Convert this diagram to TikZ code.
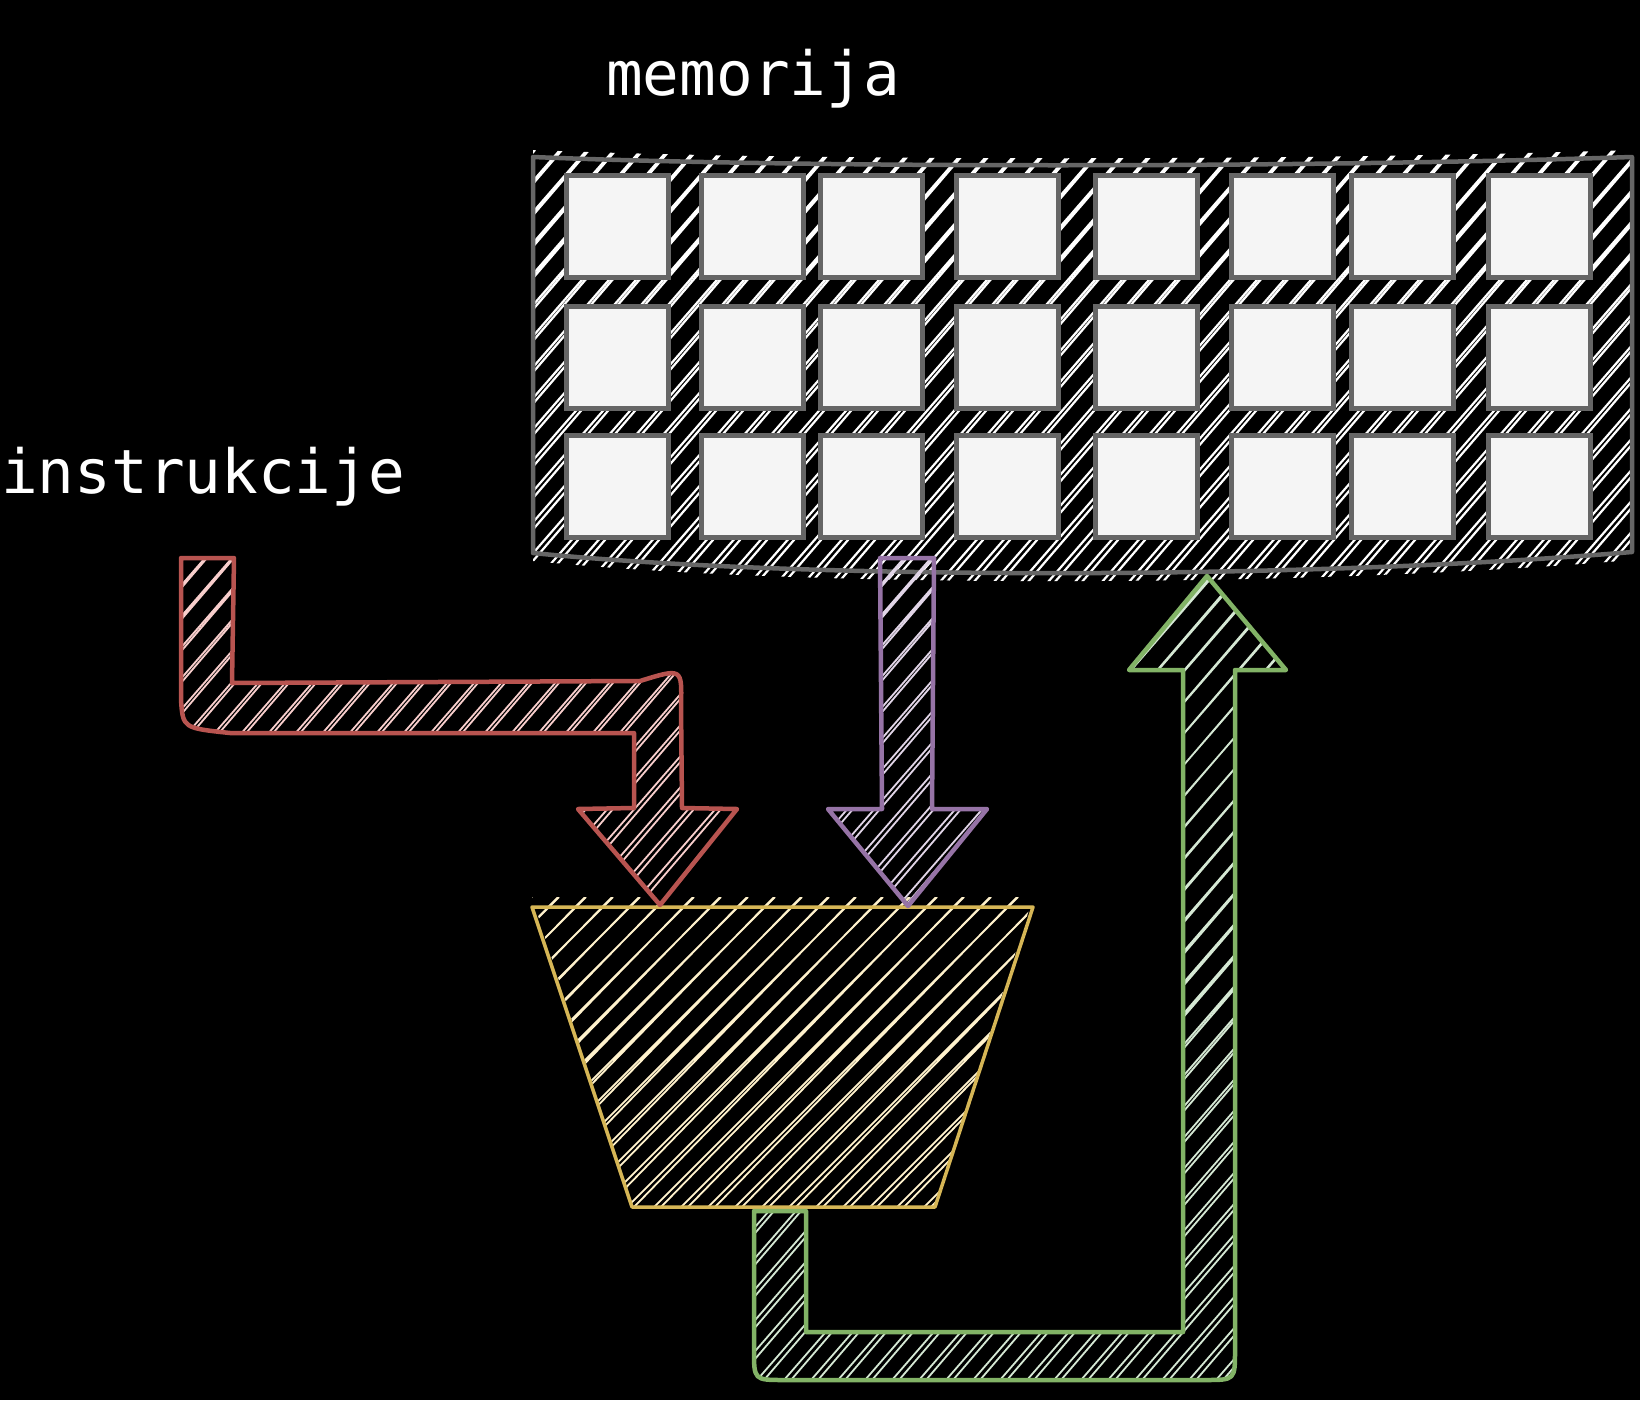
\documentclass[tikz,border=0pt]{standalone}
\usepackage{fontspec}
\setmonofont{DejaVu Sans Mono}
\definecolor{memgray}{RGB}{102,102,102}
\definecolor{cellfill}{HTML}{F5F5F5}
\definecolor{redline}{HTML}{B85450}
\definecolor{redfill}{HTML}{F8CECC}
\definecolor{violetline}{HTML}{9673A6}
\definecolor{violetfill}{HTML}{E1D5E7}
\definecolor{yellowline}{HTML}{D6B656}
\definecolor{yellowfill}{HTML}{FFF2CC}
\definecolor{greenline}{HTML}{82B366}
\definecolor{greenfill}{HTML}{D5E8D4}
\tikzstyle{cell}=[rectangle,fill=cellfill,draw=memgray,line width=5pt,minimum width=102pt,minimum height=102pt,inner sep=0pt]
\tikzstyle{hatch}=[line width=1.8pt]
\tikzstyle{outline}=[draw,line width=4.5pt,line join=round]
\tikzstyle{textlabel}=[text=white,font=\ttfamily\fontsize{61}{70}\selectfont,inner sep=0pt,anchor=base west]
\begin{document}
\begin{tikzpicture}[x=1pt,y=-1pt]

    % black page
    \fill[black] (0,0) rectangle (1640,1400);
    \useasboundingbox (0,0) rectangle (1640,1400);

    % the two texts
    \node[textlabel] (memlabel) at (606,95) {memorija};
    \node[textlabel] (instrlabel) at (1,493) {instrukcije};

    % memory block: hatch first, then its outline
    \begin{scope}
      \clip (533,150) .. controls (800,161) and (1300,161) .. (1632,150) -- (1632,560) .. controls (1300,588) and (800,588) .. (533,561) -- cycle;
      \foreach \s in {150,177,...,1640}
        \draw[hatch,white,line width=2.2pt] (\s,590) -- ++(383,-440) (\s+7,590) -- ++(378,-440);
    \end{scope}
    \draw[outline,memgray] (533,157) .. controls (800,168) and (1300,168) .. (1632,157) -- (1632,552) .. controls (1300,580) and (800,580) .. (533,553) -- cycle;

    % memory cells, 8 columns and 3 rows
    \foreach \x [count=\c] in {617,752,871.5,1007.5,1146.5,1282,1402.5,1539.5}
      \foreach \y [count=\r] in {226,357.5,486.5}
        \node[cell] (cell\c\r) at (\x,\y) {};

    % the ALU
    \def\alu{(532,907) -- (1033,907) -- (935,1207) -- (632,1207) -- cycle}
    \begin{scope}
      \clip (532,897) -- (1033,897) -- (935,1207) -- (632,1207) -- cycle;
      \foreach \s in {222,249,...,1040}
        \draw[hatch,yellowfill] (\s,1207) -- ++(310,-310) (\s+7,1207) -- ++(302,-310);
    \end{scope}
    \draw[outline,yellowline,line width=3.5pt] \alu;

    % green arrow from the ALU back to memory
    \def\back{(754,1211) -- (806,1211) -- (806,1332) -- (1183,1332) -- (1183,670) -- (1129,670) -- (1207,576) -- (1286,670) -- (1235,670) -- (1235,1350) .. controls (1235,1380) .. (1205,1380) -- (784,1380) .. controls (754,1380) .. (754,1350) -- cycle}
    \begin{scope}
      \clip \back;
      \foreach \s in {55,82,...,1290}
        \draw[hatch,greenfill] (\s,1380) -- ++(699,-804) (\s+7,1380) -- ++(690,-804);
    \end{scope}
    \draw[outline,greenline] \back;

    % red arrow: instructions into the ALU
    \def\instr{(181,558) -- (234,558) -- (232,683) -- (640,681) .. controls (682,668) .. (681,705) -- (682,808) -- (737,809) -- (660,905) -- (578,809) -- (634,808) -- (634,733) -- (230,733) .. controls (183,728) .. (181,700) -- cycle}
    \begin{scope}
      \clip \instr;
      \foreach \s in {-125,-98,...,740}
        \draw[hatch,redfill] (\s,906) -- ++(303,-348) (\s+7,906) -- ++(298,-348);
    \end{scope}
    \draw[outline,redline] \instr;

    % violet arrow: data from memory into the ALU
    \def\data{(880,558) -- (934,558) -- (932,809) -- (987,809) -- (908,906) -- (828,809) -- (882,809) -- cycle}
    \begin{scope}
      \clip \data;
      \foreach \s in {520,547,...,990}
        \draw[hatch,violetfill] (\s,906) -- ++(303,-348) (\s+7,906) -- ++(298,-348);
    \end{scope}
    \draw[outline,violetline] \data;

\end{tikzpicture}
\end{document}
